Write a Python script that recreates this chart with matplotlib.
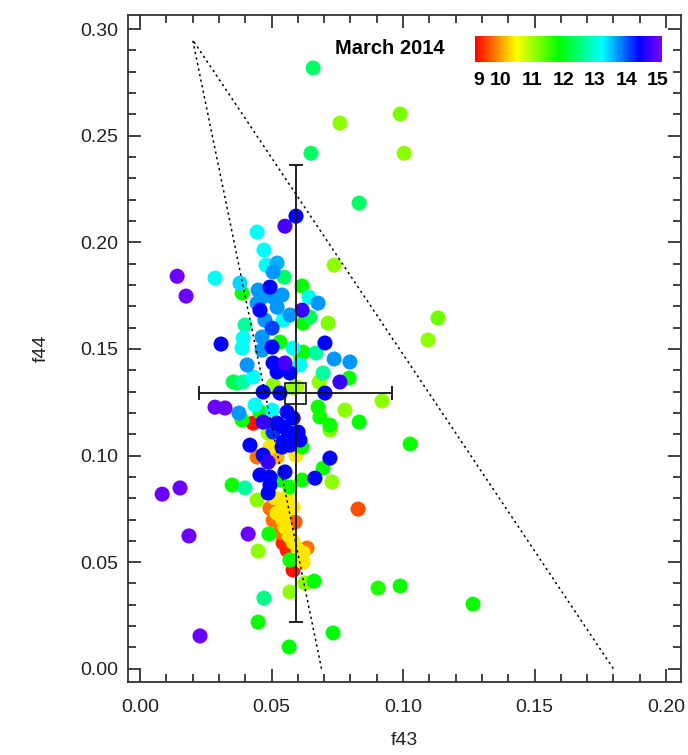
import matplotlib
matplotlib.use("Agg")
import matplotlib.pyplot as plt
import numpy as np
from matplotlib.colors import LinearSegmentedColormap, Normalize
from matplotlib.patches import Rectangle
from matplotlib.ticker import MultipleLocator
import matplotlib.cm as cm

plt.rcParams['font.family'] = ['Liberation Sans', 'DejaVu Sans']

# ---- data: f43, f44, day of March 2014 ----
f43 = [0.0658, 0.076, 0.0989, 0.1004, 0.065, 0.0833, 0.0593, 0.0551, 0.0445, 0.0471,
       0.0738, 0.0141, 0.0175, 0.0285, 0.1133, 0.1095, 0.0308, 0.0285, 0.0323, 0.0084,
       0.0152, 0.0186, 0.0228, 0.0411, 0.1266, 0.0989, 0.0905, 0.0829, 0.1027, 0.092,
       0.0734, 0.0567, 0.0449, 0.0471, 0.057, 0.0627, 0.0662, 0.0582,
       0.0479, 0.0521, 0.0506, 0.0548, 0.038, 0.0388, 0.0494, 0.0449, 0.0464, 0.0506,
       0.054, 0.0616, 0.0642, 0.0677, 0.0445, 0.0456, 0.0521, 0.0616, 0.0646, 0.057,
       0.0544, 0.062, 0.0715, 0.0399, 0.0475, 0.0502, 0.0392, 0.0388, 0.0464, 0.0502,
       0.0464, 0.0532, 0.0582, 0.0608, 0.062, 0.0669, 0.0703, 0.0738, 0.0798, 0.0551,
       0.0506, 0.0407, 0.0608, 0.0696, 0.0521, 0.057, 0.076, 0.0795, 0.0681, 0.0354,
       0.0392, 0.043, 0.0506, 0.0703, 0.0468, 0.0532, 0.0597,
       0.0369, 0.0582, 0.0376, 0.0388, 0.0437, 0.0456, 0.0502, 0.0559, 0.0582, 0.043,
       0.0468, 0.0521, 0.0544, 0.0487, 0.0506, 0.0563, 0.0601, 0.0677, 0.0684, 0.0722,
       0.0722, 0.0779, 0.0833, 0.0608, 0.0616, 0.0544, 0.054, 0.057, 0.0418, 0.0494,
       0.0468, 0.0487, 0.0445, 0.0521, 0.0593, 0.0722, 0.0696, 0.0665, 0.073, 0.0456,
       0.0494, 0.0551, 0.0532, 0.057, 0.0616, 0.0494, 0.0487, 0.035, 0.0399, 0.0445,
       0.0513, 0.0559, 0.0544, 0.0582, 0.0494, 0.0521, 0.0544, 0.0506, 0.0589, 0.0544,
       0.0551, 0.0532, 0.049, 0.0449, 0.0567, 0.0544, 0.0559, 0.0582, 0.0635, 0.0601,
       0.062, 0.057, 0.062]
f44 = [0.2818, 0.2559, 0.2602, 0.2418, 0.2418, 0.2184, 0.2123, 0.2076, 0.2048, 0.1964,
       0.1893, 0.1841, 0.1748, 0.1832, 0.1645, 0.1542, 0.1523, 0.1227, 0.1223, 0.0819,
       0.0848, 0.0623, 0.0154, 0.0632, 0.0303, 0.0388, 0.0378, 0.0749, 0.1054, 0.1256,
       0.0168, 0.0102, 0.0219, 0.0331, 0.036, 0.0402, 0.0411, 0.0463,
       0.1893, 0.1903, 0.1861, 0.1837, 0.1809, 0.1762, 0.179, 0.1776, 0.1743, 0.1743,
       0.1753, 0.1795, 0.1743, 0.1715, 0.1715, 0.1682, 0.1696, 0.1682, 0.1649, 0.1659,
       0.1635, 0.1621, 0.1621, 0.1612, 0.1635, 0.1598, 0.1551, 0.1504, 0.1556, 0.1509,
       0.1495, 0.1532, 0.1504, 0.1462, 0.1485, 0.1481, 0.1528, 0.1453, 0.1439, 0.1434,
       0.1434, 0.1425, 0.1425, 0.1387, 0.1392, 0.1387, 0.1345, 0.1363, 0.1345, 0.1345,
       0.1345, 0.1368, 0.1331, 0.1293, 0.1298, 0.1293, 0.1321,
       0.134, 0.1317, 0.1199, 0.1167, 0.1237, 0.1204, 0.1213, 0.1204, 0.1176, 0.1152,
       0.1157, 0.1152, 0.1134, 0.1106, 0.111, 0.111, 0.111, 0.1227, 0.1181, 0.1143,
       0.112, 0.1213, 0.1157, 0.1073, 0.104, 0.1063, 0.104, 0.1049, 0.1049, 0.104,
       0.1002, 0.0969, 0.0993, 0.0993, 0.1002, 0.0988, 0.0941, 0.0894, 0.0876, 0.0909,
       0.0899, 0.0923, 0.0885, 0.0852, 0.0885, 0.0862, 0.0824, 0.0862, 0.0848, 0.0791,
       0.0801, 0.0805, 0.0758, 0.0758, 0.0753, 0.073, 0.0721, 0.0697, 0.0688, 0.0697,
       0.0665, 0.0641, 0.0632, 0.0552, 0.0623, 0.059, 0.0557, 0.0594, 0.0566, 0.0557,
       0.0543, 0.051, 0.05]
day = [12.4, 11.1, 11.2, 11.1, 12.4, 12.4, 14.4, 14.8, 13.2, 13.2,
       11.1, 15.0, 15.0, 13.2, 11.3, 11.1, 14.4, 15.0, 15.0, 15.0,
       15.0, 15.0, 15.0, 15.0, 11.8, 11.8, 11.7, 9.6, 11.8, 11.1,
       11.9, 11.9, 11.8, 12.6, 11.1, 11.1, 11.9, 9.3,
       13.2, 13.6, 13.7, 12.4, 13.4, 11.8, 14.4, 13.7, 13.7, 13.7,
       13.7, 11.8, 13.1, 13.7, 13.7, 14.4, 13.7, 14.7, 12.3, 13.7,
       13.2, 11.8, 11.2, 12.7, 13.7, 14.1, 13.2, 13.2, 13.7, 14.4,
       13.7, 11.8, 13.2, 11.1, 11.8, 12.7, 14.4, 13.7, 13.7, 14.8,
       14.4, 13.7, 13.2, 12.7, 14.4, 14.4, 14.7, 11.8, 11.1, 12.3,
       12.7, 13.2, 11.1, 14.4, 14.4, 14.4, 11.0,
       12.3, 11.1, 13.7, 11.8, 13.2, 11.8, 13.2, 14.4, 14.4, 9.3,
       14.7, 14.4, 14.4, 11.0, 14.2, 14.4, 14.4, 11.8, 11.8, 11.8,
       11.2, 11.1, 11.9, 14.4, 11.8, 14.4, 14.4, 14.4, 14.4, 10.4,
       14.4, 14.7, 9.8, 10.1, 10.4, 14.4, 11.8, 14.4, 11.1, 14.4,
       14.4, 14.4, 11.8, 11.8, 11.8, 14.4, 14.4, 11.8, 12.7, 11.1,
       10.4, 10.4, 10.4, 10.4, 9.8, 10.4, 10.4, 9.8, 9.7, 10.4,
       10.4, 9.8, 11.8, 11.1, 10.4, 9.4, 9.4, 10.4, 9.8, 10.4,
       10.4, 11.8, 10.4]

# mean and standard deviation cross
mean_f43, mean_f44 = 0.0592, 0.1292
sd_f43, sd_f44 = 0.0366, 0.1072
se_f43, se_f44 = 0.0040, 0.0050

# triangle boundaries
tri_f43 = [0.069, 0.020, 0.180]
tri_f44 = [0.000, 0.295, 0.000]

cbar_ticks = [9.33, 10, 11, 12, 13, 14, 15]
cbar_labels = ['9', '10', '11', '12', '13', '14', '15']
vmin, vmax = 9.2, 15.13

cmap = LinearSegmentedColormap.from_list(
    'rainbow2',
    [(0.0, '#ff0000'), (0.22, '#ffff00'), (0.45, '#00ff00'),
     (0.68, '#00ffff'), (0.88, '#0000ff'), (1.0, '#8000ff')])
norm = Normalize(vmin, vmax)

fig = plt.figure(figsize=(6.88, 7.55), dpi=100)
ax = fig.add_axes([0.186, 0.0967, 0.8038, 0.8833])

order = np.argsort(day, kind='stable')
xs = np.array(f43)[order]
ys = np.array(f44)[order]
cs = np.array(day)[order]
ax.scatter(xs, ys, c=cs, cmap=cmap, norm=norm, s=118, linewidths=0, zorder=2)

ax.plot(tri_f43, tri_f44, color='black', lw=1.1, ls=(0, (1.5, 2.2)), zorder=3)

ax.errorbar([mean_f43], [mean_f44], xerr=[sd_f43], yerr=[sd_f44], fmt='none',
            ecolor='#111111', elinewidth=1.3, capsize=5, capthick=1.3, zorder=4)
ax.add_patch(Rectangle((mean_f43 - se_f43, mean_f44 - se_f44), 2 * se_f43, 2 * se_f44,
                       fill=False, edgecolor='#111111', lw=1.2, zorder=4))

ax.set_xlim(-0.0046, 0.2057)
ax.set_ylim(-0.0062, 0.3066)
ax.xaxis.set_major_locator(MultipleLocator(0.05))
ax.xaxis.set_minor_locator(MultipleLocator(0.01))
ax.yaxis.set_major_locator(MultipleLocator(0.05))
ax.yaxis.set_minor_locator(MultipleLocator(0.01))
ax.xaxis.set_major_formatter(plt.FormatStrFormatter('%.2f'))
ax.yaxis.set_major_formatter(plt.FormatStrFormatter('%.2f'))
ax.tick_params(which='both', direction='in', top=True, right=True, color='#333333',
               width=1.3, labelsize=14, labelcolor='#222222')
ax.tick_params(which='major', length=9.5)
ax.tick_params(which='minor', length=5.5)
ax.tick_params(axis='x', which='major', pad=12)
ax.tick_params(axis='y', which='major', pad=7)
for s in ax.spines.values():
    s.set_color('#333333')
    s.set_linewidth(1.3)

ax.set_xlabel('f43', fontsize=14, color='#222222', labelpad=12)
ax.set_ylabel('f44', fontsize=14, color='#222222', labelpad=22)

cax = fig.add_axes([0.6904, 0.9179, 0.2718, 0.0344])
cb = fig.colorbar(cm.ScalarMappable(norm=norm, cmap=cmap), cax=cax, orientation='horizontal')
cb.outline.set_visible(False)
cb.set_ticks(cbar_ticks)
cb.set_ticklabels(cbar_labels)
cax.tick_params(length=0, pad=7)
for lab in cax.get_xticklabels():
    lab.set_fontweight('bold')
    lab.set_fontsize(14)
fig.text(0.487, 0.936, 'March 2014', fontsize=14.5, fontweight='bold', ha='left', va='center')

fig.savefig('out.png', dpi=100)
